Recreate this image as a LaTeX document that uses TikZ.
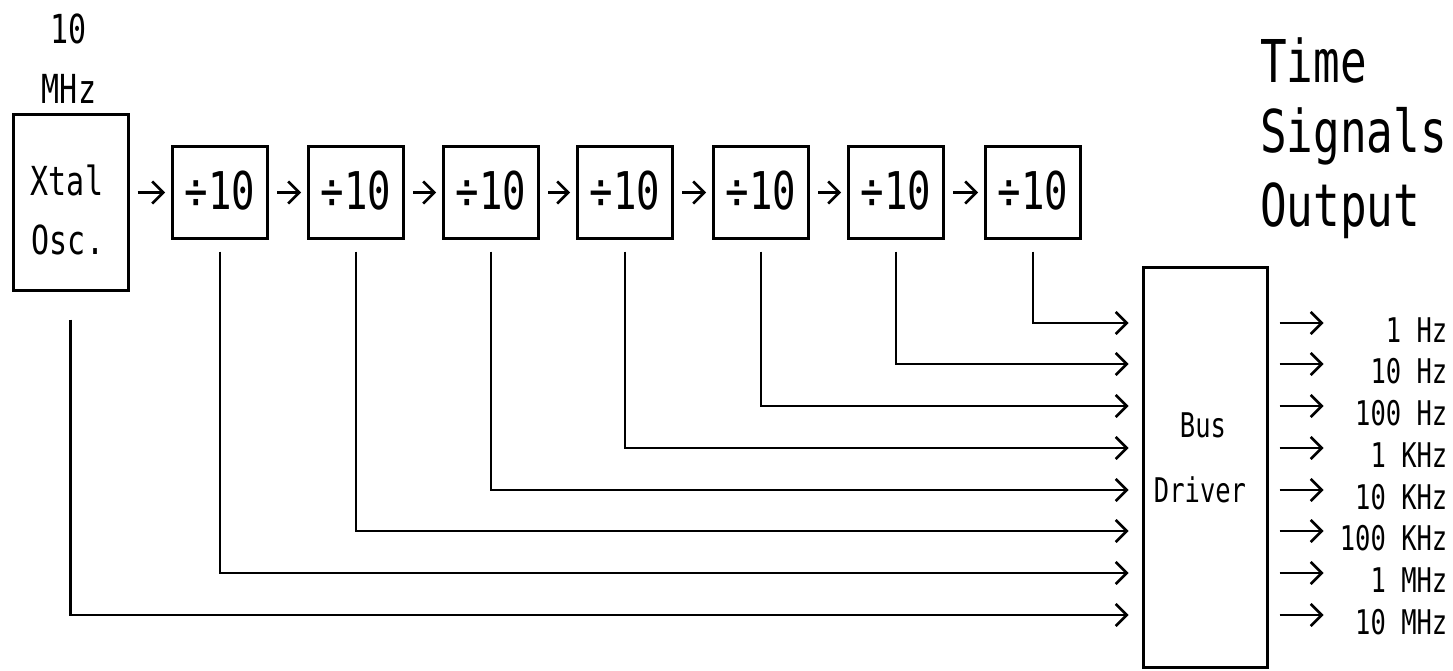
\documentclass[tikz,border=0pt]{standalone}
\usepackage{fontspec}
\usetikzlibrary{arrows.meta}
\newfontfamily\dmono[FakeStretch=0.75]{DejaVu Sans Mono}
\begin{document}
\begin{tikzpicture}[x=1pt,y=-1pt,
  box/.style={draw, line width=3pt, inner sep=0pt},
  divbox/.style={box, minimum width=95pt, minimum height=91pt, font=\dmono\fontsize{52}{54}\selectfont},
  wire/.style={line width=2.8pt},
  arr/.style={wire, -{Straight Barb[length=11pt,width=22pt,line width=2.6pt]}},
  lbl/.style={inner sep=0pt, font=\dmono\fontsize{34}{36}\selectfont},
  mid/.style={inner sep=0pt, font=\dmono\fontsize{40}{42}\selectfont},
  big/.style={inner sep=0pt, anchor=base west, font=\dmono\fontsize{59}{60}\selectfont}]
\useasboundingbox (0,0) rectangle (1453,671);
% top label
\node[mid] (f10) at (69,29) {10};
\node[mid] (fmhz) at (69,89) {MHz};
% oscillator
\node[box, minimum width=115pt, minimum height=175pt] (xtal) at (70.5,202.5) {};
\node[mid] (xtalA) at (67,180) {Xtal};
\node[mid] (xtalB) at (68,240) {Osc.};
% dividers
\foreach \i/\x in {1/220,2/356,3/491,4/625,5/761,6/896,7/1033}
  \node[divbox] (d\i) at (\x,192.5) {\raisebox{5pt}{÷10}};
\draw[arr, shorten <=8pt, shorten >=6pt] (xtal.east |- d1.west) -- (d1.west);
\foreach \a/\b in {d1/d2,d2/d3,d3/d4,d4/d5,d5/d6,d6/d7}
  \draw[arr, shorten <=8pt, shorten >=6pt] (\a.east) -- (\b.west);
% title
\node[big] (t1) at (1260,83) {Time};
\node[big] (t2) at (1260,153) {Signals};
\node[big] (t3) at (1260,226) {Output};
% rows
\foreach \i/\y in {1/323,2/364,3/406,4/448,5/490,6/531,7/573,8/615}
  \coordinate (r\i) at (0,\y);
% bus driver
\node[box, minimum width=124pt, minimum height=400pt] (bus) at (1205,467) {};
\node[lbl] (busA) at (1203,425) {Bus};
\node[lbl] (busB) at (1200,490) {Driver};
% inputs
\foreach \d/\r in {d7/r1,d6/r2,d5/r3,d4/r4,d3/r5,d2/r6,d1/r7}
  \draw[arr, shorten >=13pt] ([yshift=-12pt]\d.south) |- (bus.west |- \r);
\draw[arr, shorten >=13pt] ([yshift=-28pt]xtal.south) |- (bus.west |- r8);
% outputs
\foreach \i/\t in {1/1 Hz,2/10 Hz,3/100 Hz,4/1 KHz,5/10 KHz,6/100 KHz,7/1 MHz,8/10 MHz}{
  \path (bus.east |- r\i) coordinate (s\i);
  \draw[arr] ([xshift=11pt]s\i) -- ([xshift=55pt]s\i);
  \node[lbl, anchor=base east] (l\i) at ([xshift=179pt,yshift=-19pt]s\i) {\t};
}
\end{tikzpicture}
\end{document}
